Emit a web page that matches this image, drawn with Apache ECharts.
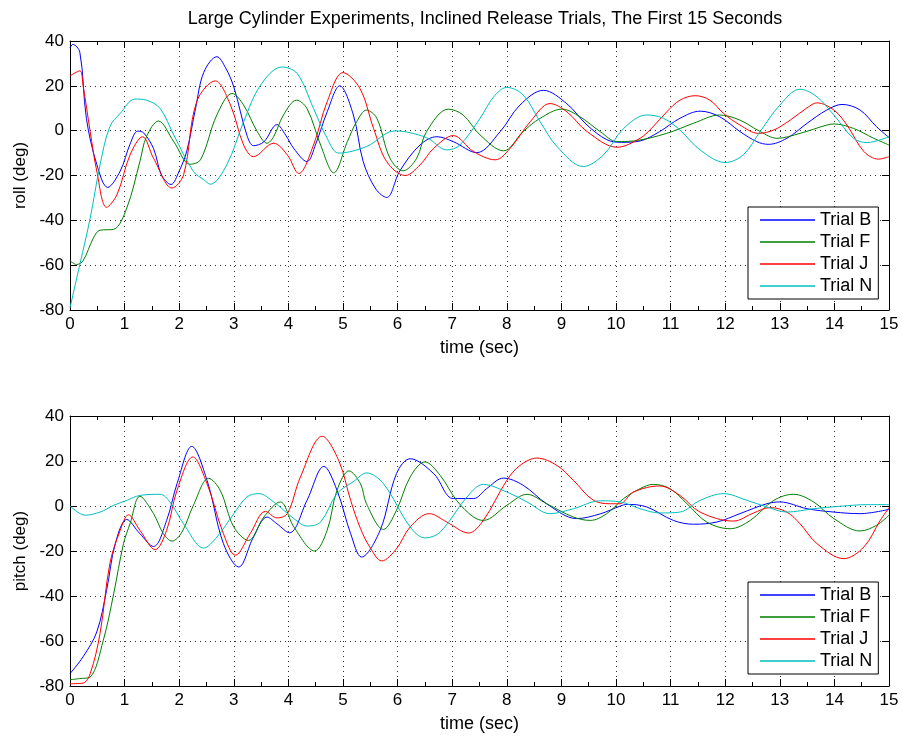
<!DOCTYPE html>
<html>
<head>
<meta charset="utf-8">
<script src="https://cdn.jsdelivr.net/npm/echarts@6/dist/echarts.min.js"></script>
<style>
  html, body { margin: 0; padding: 0; background: #fff; }
  #main { width: 904px; height: 736px; }
</style>
</head>
<body>
<div id="main"></div>
<script>
// [time (sec), angle (deg)]
var trialNames = ["Trial B", "Trial F", "Trial J", "Trial N"];
var trialColors = ["#0000ff", "#008000", "#ff0000", "#00bfbf"];
var xTicks = [0, 15, 1];     // min, max, step
var yTicks = [-80, 40, 20];

var rollB = [[0,37],[0.05,38.5],[0.18,35],[0.3,5.5],[0.49,-15],[0.69,-25.3],[0.92,-18],[1.1,-6],[1.24,-0.2],[1.35,-1],[1.53,-8],[1.68,-20],[1.85,-24],[2.0,-18],[2.14,-9],[2.3,10],[2.45,26],[2.69,33],[2.85,28],[3.0,19.5],[3.24,-2],[3.36,-6.7],[3.55,-5],[3.79,2.7],[3.95,-2],[4.1,-8],[4.34,-13.8],[4.5,-6],[4.71,8.4],[4.94,20],[5.19,7],[5.37,-13.8],[5.6,-26],[5.8,-29.8],[6.04,-18],[6.41,-6.4],[6.72,-2.7],[7.02,-4.9],[7.45,-9.8],[7.88,-0.4],[8.24,11.4],[8.67,18],[9.1,12],[9.47,2.5],[9.83,-4],[10.1,-5.2],[10.44,-4.6],[10.8,-0.4],[11.17,5.5],[11.54,8.7],[11.9,6.2],[12.27,-0.4],[12.58,-4.9],[12.79,-6.1],[13.13,-3.4],[13.5,3.3],[13.86,9.2],[14.14,11.7],[14.47,9.2],[14.77,1.8],[15,-3.1]];
var rollF = [[0,-58],[0.12,-59.7],[0.24,-58],[0.43,-47.8],[0.55,-44.4],[0.8,-44],[1.04,-34.5],[1.28,-13.8],[1.4,-2.7],[1.62,4.3],[1.9,-4.9],[2.2,-15],[2.39,-13],[2.69,7],[2.97,16.6],[3.18,11.4],[3.43,-0.4],[3.61,-5.6],[3.73,-2.7],[3.91,7],[4.15,13.6],[4.34,9.9],[4.59,-6.4],[4.83,-18.8],[5.08,-4.9],[5.25,4],[5.43,9.2],[5.62,5.5],[5.86,-12.3],[6.1,-17.9],[6.35,-12.3],[6.53,-0.4],[6.93,9.6],[7.2,7],[7.51,-1.9],[7.94,-9],[8.3,-0.4],[8.61,5.5],[9.01,9.6],[9.34,6.2],[9.71,-0.4],[10.02,-4.9],[10.32,-4.6],[10.93,-1.2],[11.42,3.3],[11.9,7],[12.27,4.7],[12.64,-0.4],[12.95,-3.4],[13.37,-1.2],[13.86,2.5],[13.99,3],[14.35,1],[14.72,-3.4],[15,-6.4]];
var rollJ = [[0,24.4],[0.18,26.7],[0.24,20],[0.37,-0.4],[0.49,-18],[0.67,-34.2],[0.86,-28.6],[1.1,-10.8],[1.33,-2.7],[1.53,-12.3],[1.87,-25.6],[2.08,-19.7],[2.32,12.9],[2.66,22.2],[2.94,11.4],[3.18,-6.4],[3.36,-11.6],[3.73,-5.6],[3.98,-10.8],[4.19,-19.1],[4.46,-6.4],[4.71,12.9],[5.0,25.9],[5.31,18.8],[5.56,1],[5.8,-13.8],[6.14,-20],[6.41,-15.3],[6.66,-7.9],[7.02,-2.2],[7.39,-9.3],[7.79,-13],[8.06,-7.9],[8.43,4],[8.79,12.1],[9.1,8.4],[9.47,-0.4],[10.02,-7.4],[10.44,-3.4],[10.68,1.8],[10.93,8.4],[11.17,13.6],[11.45,15.6],[11.72,13.6],[11.97,7.7],[12.27,2.5],[12.61,-1.2],[12.89,0.3],[13.19,4.7],[13.5,10.2],[13.68,12.4],[13.99,9.2],[14.23,2.5],[14.54,-9.3],[14.81,-12.7],[15,-11.6]];
var rollN = [[0,-79],[0.18,-59.7],[0.37,-39],[0.55,-15.3],[0.73,1.8],[0.92,7.7],[1.19,14.1],[1.4,13.6],[1.65,9.9],[1.9,-1.9],[2.26,-18.2],[2.45,-21.9],[2.57,-23.9],[2.87,-15.3],[3.18,4],[3.49,20.3],[3.88,28.4],[4.16,25.5],[4.46,9.9],[4.71,-3.4],[4.92,-10],[5.43,-7.1],[5.95,-0.1],[6.53,-3.1],[6.9,-8.6],[7.14,-6.4],[7.51,5.5],[7.76,15.1],[8.0,19.3],[8.3,15.9],[8.61,4],[8.92,-7.1],[9.4,-16],[9.77,-10.8],[10.14,1],[10.56,7],[10.87,5.5],[11.17,0.3],[11.54,-8.6],[12.0,-14.2],[12.33,-10.8],[12.64,-0.4],[13.0,11.4],[13.37,18.5],[13.68,15.1],[13.99,7],[14.35,-3.4],[14.6,-5.3],[15,-2.7]];

var pitchB = [[0,-74.5],[0.24,-67],[0.49,-56],[0.67,-37.5],[0.83,-16.7],[1.04,-6],[1.28,-12.3],[1.53,-18],[1.77,-6.4],[1.96,9.9],[2.23,26.5],[2.51,11.4],[2.81,-16.7],[3.09,-27.1],[3.36,-13.8],[3.61,-4.9],[3.79,-7.9],[4.02,-11.9],[4.34,2.5],[4.65,17.6],[4.89,7],[5.14,-12.3],[5.34,-22.7],[5.68,-10.8],[5.98,14.4],[6.23,21],[6.66,14.4],[7.02,3.3],[7.39,3.3],[7.63,7.7],[7.94,12.4],[8.3,9.2],[8.73,1],[9.28,-5.6],[9.71,-3.5],[10.08,0],[10.2,0.7],[10.56,-0.4],[11.05,-6.4],[11.42,-8.1],[11.85,-7.1],[12.27,-3.4],[12.76,1],[13.0,1.8],[13.5,-1.2],[13.99,-2.7],[14.47,-3.4],[15,-1.5]];
var pitchF = [[0,-77.2],[0.18,-76.7],[0.37,-76],[0.61,-59.7],[0.8,-39],[0.98,-16.7],[1.1,-7.9],[1.28,4.3],[1.53,-3.4],[1.71,-12.3],[1.87,-15.6],[2.05,-11.6],[2.26,0.3],[2.54,12.3],[2.75,7],[3.0,-9.3],[3.27,-15.3],[3.55,-4.9],[3.85,1.8],[4.1,-9.3],[4.48,-20],[4.71,-10.8],[4.89,7],[5.11,15.6],[5.32,9.9],[5.43,1],[5.74,-10.4],[5.98,-1.9],[6.23,12.9],[6.5,19.6],[6.78,13.6],[7.08,2.5],[7.39,-4.9],[7.57,-6.4],[8.0,0.3],[8.37,5.2],[8.73,1],[9.22,-4.9],[9.53,-6.4],[9.83,-3.4],[10.14,3.3],[10.44,7.7],[10.68,9.6],[10.99,7.7],[11.3,1],[11.66,-7.1],[12.09,-10.1],[12.46,-6.4],[12.89,2.5],[13.25,5.2],[13.62,1.8],[13.99,-5.6],[14.47,-11.1],[14.77,-8.6],[15,-4.1]];
var pitchJ = [[0,-79],[0.24,-78.7],[0.37,-74.5],[0.55,-56.7],[0.73,-25.6],[0.92,-10.8],[1.07,-3.9],[1.28,-10.8],[1.56,-19.4],[1.77,-10.8],[1.96,7],[2.25,21.8],[2.51,9.9],[2.81,-12.3],[3.03,-21.9],[3.3,-12.3],[3.58,-2.4],[3.79,-5.3],[3.98,-3.4],[4.22,12.9],[4.62,31],[4.92,20.3],[5.14,2.5],[5.32,-10],[5.49,-18.2],[5.71,-24.4],[5.98,-19],[6.23,-9.3],[6.58,-3.4],[6.9,-7.1],[7.3,-12],[7.57,-6.4],[8.0,11.4],[8.24,18],[8.55,21.3],[8.92,18],[9.22,11.4],[9.59,2.5],[9.95,1],[10.07,1],[10.32,6.2],[10.8,8.9],[11.17,4.7],[11.54,-2.7],[12.15,-6.7],[12.52,-3.1],[12.82,-0.7],[13.13,-2.7],[13.37,-7.9],[13.68,-16.7],[14.17,-23.4],[14.54,-18.2],[14.84,-6.4],[15,-0.7]];
var pitchN = [[0,0],[0.28,-4.1],[0.55,-2.7],[0.8,0.3],[1.04,2.5],[1.28,4.7],[1.65,5.2],[1.83,1.8],[2.08,-7.9],[2.45,-18.7],[2.69,-13.8],[3.0,-3.4],[3.24,4],[3.46,5.5],[3.73,1.8],[4.1,-5.6],[4.34,-8.9],[4.59,-7.1],[4.89,5.5],[5.2,11],[5.43,14.7],[5.74,9.9],[6.23,-9.3],[6.5,-14.2],[6.78,-11.6],[7.27,4],[7.57,9.6],[8.0,6.2],[8.37,1.8],[8.79,-3.4],[9.22,-1.2],[9.71,2.3],[10.08,1.8],[10.44,-1.2],[10.8,-3.1],[11.17,-2.7],[11.54,2.5],[11.97,5.5],[12.4,2.5],[12.76,-0.4],[13.13,-2.7],[13.62,-1.2],[14.11,-0.1],[14.6,0.6],[15,0.6]];

var rollData = [rollB, rollF, rollJ, rollN];
var pitchData = [pitchB, pitchF, pitchJ, pitchN];

var FONT = "'Liberation Sans', Arial, Helvetica, sans-serif";
var chart = echarts.init(document.getElementById("main"));

function xAx(gridIndex, name, top) {
  return {
    type: "value", gridIndex: gridIndex, position: top ? "top" : "bottom",
    min: xTicks[0], max: xTicks[1], interval: xTicks[2],
    name: top ? "" : name, nameLocation: "middle", nameGap: 29,
    nameTextStyle: { fontFamily: FONT, fontSize: 18, color: "#000" },
    axisLine: { show: true, onZero: false, lineStyle: { color: "#000", width: 1 } },
    axisTick: { show: true, inside: true, length: 7, lineStyle: { color: "#000" } },
    minorTick: { show: true, splitNumber: 2, length: 4, lineStyle: { color: "#000" } },
    axisLabel: { show: !top, margin: 6, fontFamily: FONT, fontSize: 17, color: "#000" },
    splitLine: { show: !top, lineStyle: { color: "#333", width: 1, type: [1, 4] } }
  };
}
function yAx(gridIndex, name, right) {
  return {
    type: "value", gridIndex: gridIndex, position: right ? "right" : "left",
    min: yTicks[0], max: yTicks[1], interval: yTicks[2],
    name: right ? "" : name, nameLocation: "middle", nameGap: 40,
    nameTextStyle: { fontFamily: FONT, fontSize: 17, color: "#000" },
    axisLine: { show: true, onZero: false, lineStyle: { color: "#000", width: 1 } },
    axisTick: { show: true, inside: true, length: 7, lineStyle: { color: "#000" } },
    axisLabel: { show: !right, margin: 6, fontFamily: FONT, fontSize: 17, color: "#000" },
    splitLine: { show: !right, lineStyle: { color: "#333", width: 1, type: [1, 4] } }
  };
}
function legendAt(top) {
  return {
    data: trialNames.map(function (nm, i) {
      return { name: nm, itemStyle: { color: trialColors[i], borderWidth: 0 } };
    }),
    orient: "vertical", left: 748, top: top,
    icon: "rect", itemWidth: 55, itemHeight: 1.5, itemGap: 4,
    padding: [4, 6, 4, 12], borderColor: "#000", borderWidth: 1,
    backgroundColor: "#fff",
    textStyle: { fontFamily: FONT, fontSize: 18, lineHeight: 18, color: "#000" }
  };
}

var series = [];
trialNames.forEach(function (nm, i) {
  series.push({ name: nm, type: "line", xAxisIndex: 0, yAxisIndex: 0, data: rollData[i],
    showSymbol: false, smooth: 0.35, lineStyle: { width: 1, color: trialColors[i] }, itemStyle: { color: trialColors[i] } });
  series.push({ name: nm, type: "line", xAxisIndex: 2, yAxisIndex: 2, data: pitchData[i],
    showSymbol: false, smooth: 0.35, lineStyle: { width: 1, color: trialColors[i] }, itemStyle: { color: trialColors[i] } });
});

chart.setOption({
  animation: false,
  backgroundColor: "#fff",
  title: {
    text: "Large Cylinder Experiments, Inclined Release Trials, The First 15 Seconds",
    left: 480, top: 5, textAlign: "center",
    textStyle: { fontFamily: FONT, fontSize: 18, fontWeight: "normal", color: "#000" }
  },
  legend: [legendAt(207), legendAt(582)],
  grid: [
    { left: 70, top: 41, width: 819, height: 269 },
    { left: 70, top: 416, width: 819, height: 270 }
  ],
  xAxis: [xAx(0, "time (sec)", false), xAx(0, "", true), xAx(1, "time (sec)", false), xAx(1, "", true)],
  yAxis: [yAx(0, "roll (deg)", false), yAx(0, "", true), yAx(1, "pitch (deg)", false), yAx(1, "", true)],
  series: series
});
</script>
</body>
</html>
